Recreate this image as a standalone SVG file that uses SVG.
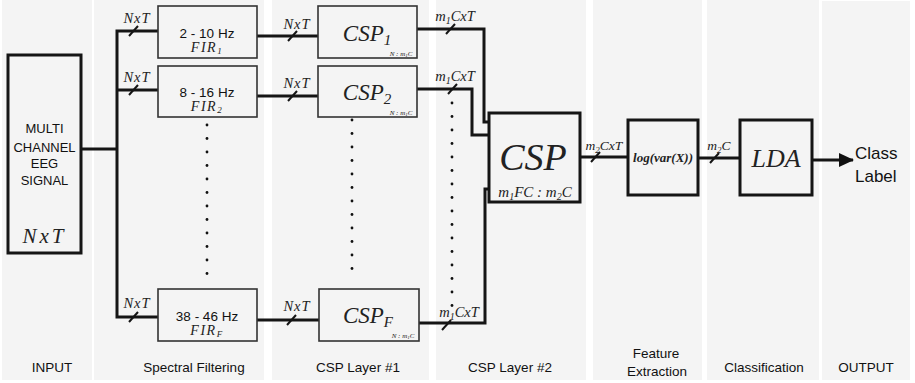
<svg xmlns="http://www.w3.org/2000/svg" width="915" height="383" viewBox="0 0 915 383">
<style>
.panel{fill:#f4f4f4}
.thick{fill:none;stroke:#151515;stroke-width:3}
.thin{fill:#f4f4f4;stroke:#333;stroke-width:1.6}
.bold{fill:#f4f4f4;stroke:#151515;stroke-width:3}
.slash{stroke:#151515;stroke-width:2}
.sans{font-family:"Liberation Sans",Arial,sans-serif;fill:#111}
.math{font-family:"Liberation Serif","DejaVu Serif",serif;font-style:italic;fill:#222}
.lbl{font-size:13.5px;text-anchor:middle}
.dot{fill:#111}
</style>
<defs>
<marker id="arr" markerWidth="16" markerHeight="16" refX="14" refY="7" orient="auto" markerUnits="userSpaceOnUse">
<path d="M0,0 L15,7 L0,14 Z" fill="#111"/>
</marker>
</defs>
<g id="panels">
<rect class="panel" x="2" y="0" width="90" height="380"/>
<rect class="panel" x="94" y="0" width="170" height="380"/>
<rect class="panel" x="272" y="0" width="157" height="380"/>
<rect class="panel" x="436" y="0" width="150" height="380"/>
<rect class="panel" x="593" y="0" width="109" height="380"/>
<rect class="panel" x="707" y="0" width="112" height="380"/>
<rect class="panel" x="822" y="1" width="88" height="379"/>
</g>
<g id="stage-labels" class="sans lbl">
<text x="52" y="372">INPUT</text>
<text x="194" y="372">Spectral Filtering</text>
<text x="358" y="372">CSP Layer #1</text>
<text x="510" y="372">CSP Layer #2</text>
<text x="656" y="358">Feature</text>
<text x="657" y="376">Extraction</text>
<text x="764" y="372">Classification</text>
<text x="866" y="372">OUTPUT</text>
</g>
<g id="connectors">
<polyline class="thick" points="81,149 117,149"/>
<polyline class="thick" points="158,31 117,31 117,317 158,317"/>
<polyline class="thick" points="117,90 158,90"/>
<polyline class="thick" points="257,36 318,36"/>
<polyline class="thick" points="257,96 318,96"/>
<polyline class="thick" points="257,320 319,320"/>
<polyline class="thick" points="417,29 484,29 484,122 489,122"/>
<polyline class="thick" points="417,89 472,89 472,135 489,135"/>
<polyline class="thick" points="419,323 485,323 485,189 489,189"/>
<polyline class="thick" points="580,157 628,157"/>
<polyline class="thick" points="698,158 740,158"/>
<line class="thick" x1="813" y1="160" x2="853" y2="160" marker-end="url(#arr)"/>
<g id="slashes">
<line class="slash" x1="129" y1="36" x2="138" y2="26"/>
<line class="slash" x1="129" y1="95" x2="138" y2="85"/>
<line class="slash" x1="129" y1="322" x2="138" y2="312"/>
<line class="slash" x1="288" y1="41" x2="297" y2="31"/>
<line class="slash" x1="288" y1="101" x2="297" y2="91"/>
<line class="slash" x1="287" y1="325" x2="296" y2="315"/>
<line class="slash" x1="446" y1="34" x2="455" y2="24"/>
<line class="slash" x1="448" y1="94" x2="457" y2="84"/>
<line class="slash" x1="442" y1="330" x2="451" y2="320"/>
<line class="slash" x1="591" y1="162" x2="600" y2="152"/>
<line class="slash" x1="710" y1="163" x2="719" y2="153"/>
</g>
<g id="connector-labels" class="math" font-size="14.5" text-anchor="middle" fill="#333">
<text x="137" y="23" letter-spacing="1">NxT</text>
<text x="137" y="82" letter-spacing="1">NxT</text>
<text x="137" y="308" letter-spacing="1">NxT</text>
<text x="297" y="29" letter-spacing="1">NxT</text>
<text x="297" y="88" letter-spacing="1">NxT</text>
<text x="297" y="311" letter-spacing="1">NxT</text>
<text x="455" y="21">m<tspan font-size="10" dy="3">1</tspan><tspan dy="-3">CxT</tspan></text>
<text x="455" y="81">m<tspan font-size="10" dy="3">1</tspan><tspan dy="-3">CxT</tspan></text>
<text x="459" y="317">m<tspan font-size="10" dy="3">1</tspan><tspan dy="-3">CxT</tspan></text>
<text x="604" y="150" font-size="13.5">m<tspan font-size="9" dy="3">2</tspan><tspan dy="-3">CxT</tspan></text>
<text x="719" y="150" font-size="13.5">m<tspan font-size="9" dy="3">2</tspan><tspan dy="-3">C</tspan></text>
</g>
</g>
<g id="input">
<rect class="bold" x="8" y="55" width="73" height="198"/>
<g class="sans" font-size="13" text-anchor="middle">
<text x="44.5" y="133">MULTI</text>
<text x="44.5" y="152" textLength="62" lengthAdjust="spacingAndGlyphs">CHANNEL</text>
<text x="44.5" y="168">EEG</text>
<text x="44.5" y="185">SIGNAL</text>
</g>
<text class="math" x="44.5" y="243" font-size="21" text-anchor="middle" letter-spacing="3" fill="#333">NxT</text>
</g>
<g id="fir1">
<rect class="thin" x="158" y="6" width="99" height="52"/>
<text class="sans" x="207" y="38" font-size="13.5" text-anchor="middle">2 - 10 Hz</text>
<text class="math" x="207" y="52" font-size="14" text-anchor="middle" letter-spacing="1.5">FIR<tspan font-size="9" dy="2">1</tspan></text>
</g>
<g id="fir2">
<rect class="thin" x="158" y="66" width="99" height="51"/>
<text class="sans" x="207" y="97" font-size="13.5" text-anchor="middle">8 - 16 Hz</text>
<text class="math" x="207" y="111" font-size="14" text-anchor="middle" letter-spacing="1.5">FIR<tspan font-size="9" dy="2">2</tspan></text>
</g>
<g id="firF">
<rect class="thin" x="158" y="289" width="99" height="52"/>
<text class="sans" x="207" y="321" font-size="13.5" text-anchor="middle">38 - 46 Hz</text>
<text class="math" x="207" y="335" font-size="14" text-anchor="middle" letter-spacing="1.5">FIR<tspan font-size="9" dy="2">F</tspan></text>
</g>
<g id="fir-dots">
<circle class="dot" cx="207" cy="125" r="1.4"/><circle class="dot" cx="207" cy="138.5" r="1.4"/><circle class="dot" cx="207" cy="152" r="1.4"/><circle class="dot" cx="207" cy="165.5" r="1.4"/><circle class="dot" cx="207" cy="179" r="1.4"/><circle class="dot" cx="207" cy="192.5" r="1.4"/><circle class="dot" cx="207" cy="206" r="1.4"/><circle class="dot" cx="207" cy="219.5" r="1.4"/><circle class="dot" cx="207" cy="233" r="1.4"/><circle class="dot" cx="207" cy="246.5" r="1.4"/><circle class="dot" cx="207" cy="260" r="1.4"/><circle class="dot" cx="207" cy="273.5" r="1.4"/>
</g>
<g id="csp1">
<rect class="thin" x="318" y="6" width="99" height="52"/>
<text class="math" x="367" y="41" font-size="23" text-anchor="middle">CSP<tspan font-size="15" dy="4">1</tspan></text>
<text class="math" x="401" y="56" font-size="7" text-anchor="middle">N : m<tspan font-size="5" dy="1">1</tspan><tspan dy="-1">C</tspan></text>
</g>
<g id="csp2">
<rect class="thin" x="318" y="66" width="99" height="51"/>
<text class="math" x="367" y="100" font-size="23" text-anchor="middle">CSP<tspan font-size="15" dy="4">2</tspan></text>
<text class="math" x="401" y="115" font-size="7" text-anchor="middle">N : m<tspan font-size="5" dy="1">1</tspan><tspan dy="-1">C</tspan></text>
</g>
<g id="cspF">
<rect class="thin" x="319" y="289" width="100" height="52"/>
<text class="math" x="368" y="323" font-size="23" text-anchor="middle">CSP<tspan font-size="15" dy="4">F</tspan></text>
<text class="math" x="403" y="338" font-size="7" text-anchor="middle">N : m<tspan font-size="5" dy="1">1</tspan><tspan dy="-1">C</tspan></text>
</g>
<g id="csp-dots">
<circle class="dot" cx="352" cy="120" r="1.4"/><circle class="dot" cx="352" cy="133.5" r="1.4"/><circle class="dot" cx="352" cy="147" r="1.4"/><circle class="dot" cx="352" cy="160.5" r="1.4"/><circle class="dot" cx="352" cy="174" r="1.4"/><circle class="dot" cx="352" cy="187.5" r="1.4"/><circle class="dot" cx="352" cy="201" r="1.4"/><circle class="dot" cx="352" cy="214.5" r="1.4"/><circle class="dot" cx="352" cy="228" r="1.4"/><circle class="dot" cx="352" cy="241.5" r="1.4"/><circle class="dot" cx="352" cy="255" r="1.4"/><circle class="dot" cx="352" cy="268.5" r="1.4"/>
</g>
<g id="layer2-dots">
<circle class="dot" cx="452" cy="103" r="1.4"/><circle class="dot" cx="452" cy="116.5" r="1.4"/><circle class="dot" cx="452" cy="130" r="1.4"/><circle class="dot" cx="452" cy="143.5" r="1.4"/><circle class="dot" cx="452" cy="157" r="1.4"/><circle class="dot" cx="452" cy="170.5" r="1.4"/><circle class="dot" cx="452" cy="184" r="1.4"/><circle class="dot" cx="452" cy="197.5" r="1.4"/><circle class="dot" cx="452" cy="211" r="1.4"/><circle class="dot" cx="452" cy="224.5" r="1.4"/><circle class="dot" cx="452" cy="238" r="1.4"/><circle class="dot" cx="452" cy="251.5" r="1.4"/><circle class="dot" cx="452" cy="265" r="1.4"/><circle class="dot" cx="452" cy="278.5" r="1.4"/><circle class="dot" cx="452" cy="292" r="1.4"/><circle class="dot" cx="452" cy="305.5" r="1.4"/>
</g>
<g id="csp-main">
<rect class="bold" x="489" y="113" width="91" height="89"/>
<text class="math" x="533" y="170" font-size="38" text-anchor="middle" fill="#111">CSP</text>
<text class="math" x="535" y="197" font-size="15" text-anchor="middle">m<tspan font-size="10" dy="3">1</tspan><tspan dy="-3">FC : m</tspan><tspan font-size="10" dy="3">2</tspan><tspan dy="-3">C</tspan></text>
</g>
<g id="feature">
<rect class="bold" x="628" y="120" width="70" height="75"/>
<text class="math" x="663" y="162" font-size="13" font-weight="bold" text-anchor="middle" fill="#111">log(var(X))</text>
</g>
<g id="lda">
<rect class="bold" x="740" y="120" width="72" height="75"/>
<text class="math" x="776" y="167" font-size="26" text-anchor="middle" fill="#111">LDA</text>
</g>
<g id="output" class="sans" font-size="17">
<text x="855" y="159">Class</text>
<text x="855" y="182">Label</text>
</g>
</svg>
